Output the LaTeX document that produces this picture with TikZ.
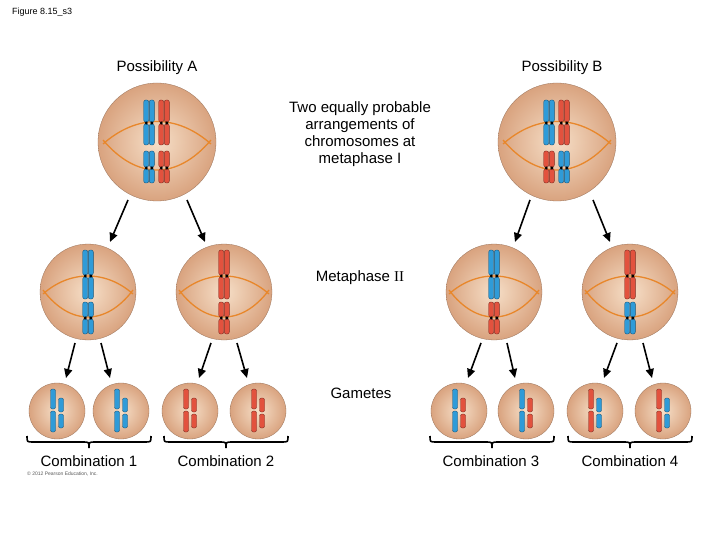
\documentclass[tikz,border=0pt]{standalone}
\usepackage{fontspec}
\setmainfont{Liberation Sans}
\newfontfamily\serifII{Liberation Serif}
\usetikzlibrary{calc,arrows.meta}
\definecolor{cblue}{HTML}{2F9BD8}
\definecolor{cred}{HTML}{E2523E}
\definecolor{corange}{HTML}{E8872B}
\definecolor{cin}{HTML}{F6DFC8}
\definecolor{cout}{HTML}{D9A37F}
\tikzset{
 cellc/.style={circle,inner sep=0pt,draw=cout!70!black,line width=0.3pt,inner color=cin,outer color=cout},
 spindle/.style={corange,line width=1.3pt},
 arr/.style={-{Triangle[length=9pt,width=8pt]},line width=1.6pt,black},
 brace/.style={line width=1.6pt,black},
 lab/.style={font=\fontsize{15}{17}\selectfont,align=center,inner sep=0pt}
}
\newcommand\chrpair[5]{%
 \foreach \dx in {-2.8,2.8}{%
  \draw[#5!55!black,fill=#5,rounded corners=2pt,line width=0.4pt] ({#1+\dx-2.5},#2) rectangle ({#1+\dx+2.5},{#3-1});
  \draw[#5!55!black,fill=#5,rounded corners=2pt,line width=0.4pt] ({#1+\dx-2.5},{#3+1}) rectangle ({#1+\dx+2.5},#4);
  \fill[black] ({#1+\dx},#3) circle (1.7);
 }}
\newcommand\chrsing[5]{%
  \draw[#5!55!black,fill=#5,rounded corners=2pt,line width=0.4pt] ({#1-2.5},#2) rectangle ({#1+2.5},{#3-1});
  \draw[#5!55!black,fill=#5,rounded corners=2pt,line width=0.4pt] ({#1-2.5},{#3+1}) rectangle ({#1+2.5},#4);
}
\newcommand\bigcellc[4]{%
 \node[cellc,minimum size=118pt] (#1) at (#2,142) {};
 \draw[spindle] ({#2-54},144) .. controls ({#2-20},114) and ({#2+20},114) .. ({#2+54},144);
 \draw[spindle] ({#2-54},140) .. controls ({#2-20},180) and ({#2+20},180) .. ({#2+54},140);
 \chrpair{#2-8}{100}{123}{145}{cblue}
 \chrpair{#2+7}{100}{123}{145}{cred}
 \chrpair{#2-8}{151}{168}{183}{#3}
 \chrpair{#2+7}{151}{168}{183}{#4}
}
\newcommand\midcellc[4]{%
 \node[cellc,minimum size=96pt] (#1) at (#2,292) {};
 \draw[spindle] ({#2-45},294) .. controls ({#2-18},270) and ({#2+18},270) .. ({#2+45},294);
 \draw[spindle] ({#2-45},290) .. controls ({#2-18},326) and ({#2+18},326) .. ({#2+45},290);
 \chrpair{#2}{250}{276}{299}{#3}
 \chrpair{#2}{302}{318}{334}{#4}
}
\newcommand\gamc[4]{%
 \node[cellc,minimum size=56pt] (#1) at (#2,411) {};
 \chrsing{#2-4}{389}{410}{432}{#3}
 \chrsing{#2+4}{398}{413}{428}{#4}
}
\newcommand\bracec[1]{%
 \draw[brace] ({#1-62},436) .. controls ({#1-62},442) .. ({#1-56},442) -- ({#1-6},442) .. controls ({#1},442) .. ({#1},448) .. controls ({#1},442) .. ({#1+6},442) -- ({#1+56},442) .. controls ({#1+62},442) .. ({#1+62},436);
}
\begin{document}
\begin{tikzpicture}[x=1pt,y=-1pt]
\useasboundingbox[fill=white] (0,0) rectangle (720,540);
\node[anchor=west,font=\fontsize{9}{10}\selectfont,inner sep=0pt] (fig) at (12,12) {Figure 8.15\_s3};
\node[lab] (pa) at (157,68) {Possibility A};
\node[lab] (pb) at (562,68) {Possibility B};
\node[lab] (t1) at (360,134) {Two equally probable\\arrangements of\\chromosomes at\\metaphase I};
\node[lab] (t2) at (360,278) {Metaphase {\serifII II}};
\node[lab] (t3) at (361,393) {Gametes};
\bigcellc{A}{157}{cblue}{cred}
\bigcellc{B}{557}{cred}{cblue}
\midcellc{m1}{88}{cblue}{cblue}
\midcellc{m2}{224}{cred}{cred}
\midcellc{m3}{494}{cblue}{cred}
\midcellc{m4}{630}{cred}{cblue}
\gamc{g1}{57}{cblue}{cblue}
\gamc{g2}{121}{cblue}{cblue}
\gamc{g3}{190}{cred}{cred}
\gamc{g4}{258}{cred}{cred}
\gamc{g5}{459}{cblue}{cred}
\gamc{g6}{526}{cblue}{cred}
\gamc{g7}{595}{cred}{cblue}
\gamc{g8}{663}{cred}{cblue}
\draw[arr] ($(A)+(-29,58)$) -- ($(m1)+(22,-50)$);
\draw[arr] ($(A)+(30,58)$) -- ($(m2)+(-19,-50)$);
\draw[arr] ($(B)+(-27,58)$) -- ($(m3)+(21,-50)$);
\draw[arr] ($(B)+(36,58)$) -- ($(m4)+(-20,-50)$);
\foreach \m/\ga/\gb in {m1/g1/g2,m2/g3/g4,m3/g5/g6,m4/g7/g8}{
 \draw[arr] ($(\m)+(-13,51)$) -- ($(\ga)+(9,-33)$);
 \draw[arr] ($(\m)+(13,51)$) -- ($(\gb)+(-11,-33)$);
}
\bracec{89}\bracec{226}\bracec{492}\bracec{630}
\node[lab] (c1) at (89,461) {Combination 1};
\node[lab] (c2) at (226,461) {Combination 2};
\node[lab] (c3) at (491,461) {Combination 3};
\node[lab] (c4) at (630,461) {Combination 4};
\node[anchor=west,font=\fontsize{5}{6}\selectfont,inner sep=0pt,gray!70!black] (copy) at (27,474) {\copyright{} 2012 Pearson Education, Inc.};
\end{tikzpicture}
\end{document}
